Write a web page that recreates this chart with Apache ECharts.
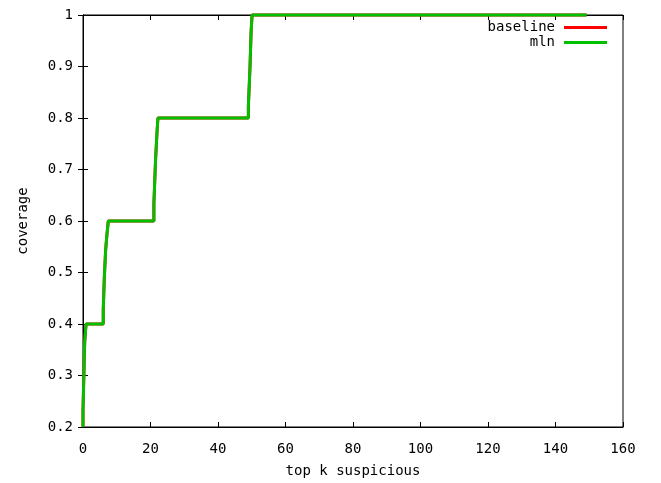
<!DOCTYPE html>
<html>
<head>
<meta charset="utf-8">
<script src="https://cdn.jsdelivr.net/npm/echarts@6/dist/echarts.min.js"></script>
<style>html,body{margin:0;padding:0;background:#fff}#c{width:661px;height:483px}</style>
</head>
<body>
<div id="c"></div>
<script>
// data
var mlnK   = [0, 0,     0.5,   0.5,   0.9,  6.0, 6.0,   6.3,   6.3,   6.7,   6.7,   7.1,   7.1,   7.5,  21.0, 21.0,  21.5,  21.5,  21.9,  21.9,  22.2, 49.0, 49.0,  49.5,  49.5,  49.8,  49.8,  50.1, 149.2];
var mlnCov = [0.2, 0.233, 0.233, 0.365, 0.4, 0.4, 0.428, 0.428, 0.487, 0.487, 0.543, 0.543, 0.574, 0.6, 0.6,  0.633, 0.633, 0.719, 0.719, 0.769, 0.8,  0.8,  0.823, 0.823, 0.902, 0.902, 0.967, 1.0,  1.0];
var baselineK   = mlnK.slice();
var baselineCov = mlnCov.slice();
var xTicks = [0, 20, 40, 60, 80, 100, 120, 140, 160];
var yTicks = ['0.2', '0.3', '0.4', '0.5', '0.6', '0.7', '0.8', '0.9', '1'];

function pairs(xs, ys) { return xs.map(function (x, i) { return [x, ys[i]]; }); }

var FONT = 'DejaVu Sans Mono';
var chart = echarts.init(document.getElementById('c'), null, {renderer: 'canvas'});
var tickStyle = {show: true, inside: true, length: 5, lineStyle: {color: '#000', width: 1}};
chart.setOption({
  animation: false,
  backgroundColor: '#fff',
  textStyle: {fontFamily: FONT, color: '#000'},
  grid: {left: 83, right: 38, top: 15, bottom: 50, show: true, borderColor: '#000', borderWidth: 1, containLabel: false},
  legend: {
    orient: 'vertical', right: 49, top: 15, align: 'right',
    icon: 'rect', itemWidth: 43, itemHeight: 3, itemGap: 0,
    textStyle: {fontFamily: FONT, fontSize: 14, color: '#000', lineHeight: 15, padding: [0, 4, 0, 0]},
    data: ['baseline', 'mln']
  },
  xAxis: [{
    type: 'value', min: 0, max: 160, interval: 20, position: 'bottom',
    name: 'top k suspicious', nameLocation: 'middle', nameGap: 37,
    nameTextStyle: {fontFamily: FONT, fontSize: 14, color: '#000'},
    axisLine: {show: true, lineStyle: {color: '#000', width: 1}},
    axisTick: tickStyle, splitLine: {show: false},
    axisLabel: {fontFamily: FONT, fontSize: 14, color: '#000', margin: 15,
      formatter: function (v) { var i = xTicks.indexOf(v); return i >= 0 ? String(xTicks[i]) : ''; }}
  }, {
    type: 'value', min: 0, max: 160, interval: 20, position: 'top',
    axisLine: {show: true, lineStyle: {color: '#000', width: 1}},
    axisTick: tickStyle, axisLabel: {show: false}, splitLine: {show: false}
  }],
  yAxis: [{
    type: 'value', min: 0.2, max: 1, interval: 0.1, position: 'left',
    name: 'coverage', nameLocation: 'middle', nameRotate: 90, nameGap: 53,
    nameTextStyle: {fontFamily: FONT, fontSize: 14, color: '#000'},
    axisLine: {show: true, lineStyle: {color: '#000', width: 1}},
    axisTick: tickStyle, splitLine: {show: false},
    axisLabel: {fontFamily: FONT, fontSize: 14, color: '#000', margin: 10,
      formatter: function (v) { var i = Math.round((v - 0.2) * 10); return yTicks[i] || ''; }}
  }, {
    type: 'value', min: 0.2, max: 1, interval: 0.1, position: 'right',
    axisLine: {show: true, lineStyle: {color: '#000', width: 1}},
    axisTick: tickStyle, axisLabel: {show: false}, splitLine: {show: false}
  }],
  series: [{
    name: 'baseline', type: 'line', xAxisIndex: 0, yAxisIndex: 0,
    data: pairs(baselineK, baselineCov), showSymbol: false, symbol: 'none', clip: false,
    color: '#ff0000', lineStyle: {color: '#ff0000', width: 3}
  }, {
    name: 'mln', type: 'line', xAxisIndex: 0, yAxisIndex: 0,
    data: pairs(mlnK, mlnCov), showSymbol: false, symbol: 'none', clip: false,
    color: '#00c000', lineStyle: {color: '#00c000', width: 3}
  }]
});
</script>
</body>
</html>
